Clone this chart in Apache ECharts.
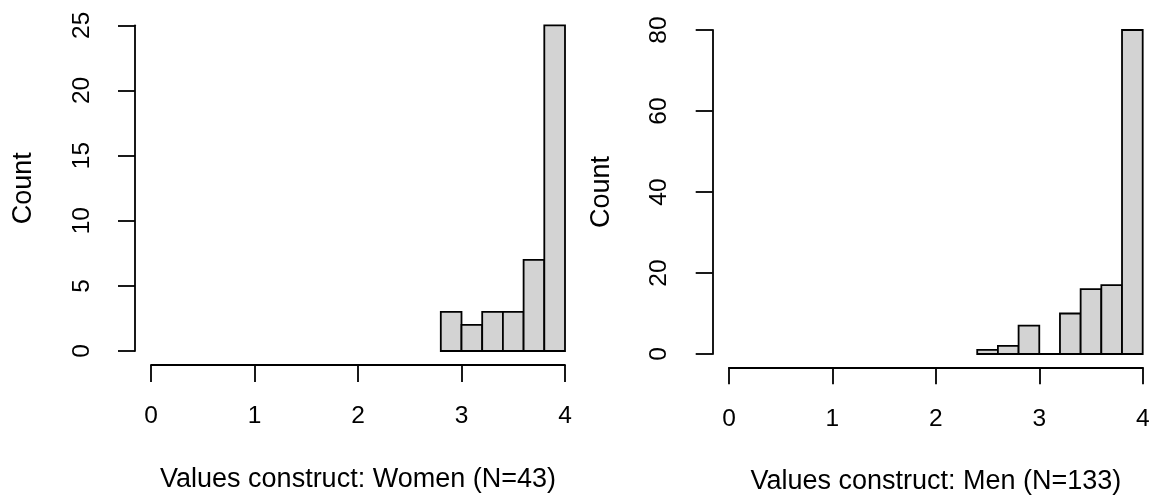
<!DOCTYPE html>
<html><head><meta charset="utf-8">
<script src="https://cdn.jsdelivr.net/npm/echarts@6/dist/echarts.min.js"></script>
<style>html,body{margin:0;padding:0;background:#fff}#c{width:1153px;height:496px}</style>
</head><body><div id="c"></div>
<script>
// ---- data ----
const womenEdges = [2.8, 3.0, 3.2, 3.4, 3.6, 3.8, 4.0];
const womenCounts = [3, 2, 3, 3, 7, 25];
const menEdges = [2.4, 2.6, 2.8, 3.0, 3.2, 3.4, 3.6, 3.8, 4.0];
const menCounts = [1, 2, 7, 0, 10, 16, 17, 80];
const xRange = [0, 4];
const womenYRange = [0, 25];
const menYRange = [0, 80];
const womenYStep = 5;
const menYStep = 20;
const womenTitle = 'Values construct: Women (N=43)';
const menTitle = 'Values construct: Men (N=133)';
const yName = 'Count';

// ---- build ----
function bins(edges, counts) {
  return counts.map((c, i) => [edges[i], edges[i + 1], c]);
}
const FONT = 'Liberation Sans, Arial, sans-serif';
function renderBin(params, api) {
  const x0 = api.value(0), x1 = api.value(1), c = api.value(2);
  const p0 = api.coord([x0, c]);
  const p1 = api.coord([x1, 0]);
  return {
    type: 'rect',
    shape: { x: p0[0], y: p0[1], width: p1[0] - p0[0], height: p1[1] - p0[1] },
    style: { fill: '#D3D3D3', stroke: '#000', lineWidth: 1.8 }
  };
}
const axisLine = { show: true, onZero: false, lineStyle: { color: '#000', width: 1.8 } };
const axisTick = { show: true, length: 17, lineStyle: { color: '#000', width: 1.8 } };
function xAx(idx, name, off) {
  return {
    type: 'value', gridIndex: idx, min: xRange[0], max: xRange[1], interval: 1,
    offset: off, axisLine, axisTick, splitLine: { show: false },
    axisLabel: { fontSize: 24.5, color: '#000', fontFamily: FONT, margin: 39 },
    name, nameLocation: 'middle', nameGap: 101,
    nameTextStyle: { fontSize: 27, color: '#000', fontFamily: FONT }
  };
}
function yAx(idx, range, step, off) {
  return {
    type: 'value', gridIndex: idx, min: range[0], max: range[1], interval: step,
    offset: off, axisLine, axisTick, splitLine: { show: false },
    axisLabel: { fontSize: 24.5, color: '#000', fontFamily: FONT, margin: 40.5, rotate: 90 },
    name: yName, nameLocation: 'middle', nameGap: 97.5, nameRotate: 90,
    nameTextStyle: { fontSize: 27, color: '#000', fontFamily: FONT }
  };
}
const chart = echarts.init(document.getElementById('c'), null, { renderer: 'canvas' });
chart.setOption({
  backgroundColor: '#fff',
  animation: false,
  grid: [
    { left: 151, width: 414, top: 25.3, height: 325.7, containLabel: false, outerBoundsMode: 'none' },
    { left: 729, width: 413.7, top: 30, height: 324, containLabel: false, outerBoundsMode: 'none' }
  ],
  xAxis: [xAx(0, womenTitle, 14), xAx(1, menTitle, 13.3)],
  yAxis: [yAx(0, womenYRange, womenYStep, 16), yAx(1, menYRange, menYStep, 16.3)],
  series: [
    { type: 'custom', xAxisIndex: 0, yAxisIndex: 0, renderItem: renderBin,
      encode: { x: [0, 1], y: 2 }, data: bins(womenEdges, womenCounts), clip: false },
    { type: 'custom', xAxisIndex: 1, yAxisIndex: 1, renderItem: renderBin,
      encode: { x: [0, 1], y: 2 }, data: bins(menEdges, menCounts), clip: false }
  ]
});
</script></body></html>
